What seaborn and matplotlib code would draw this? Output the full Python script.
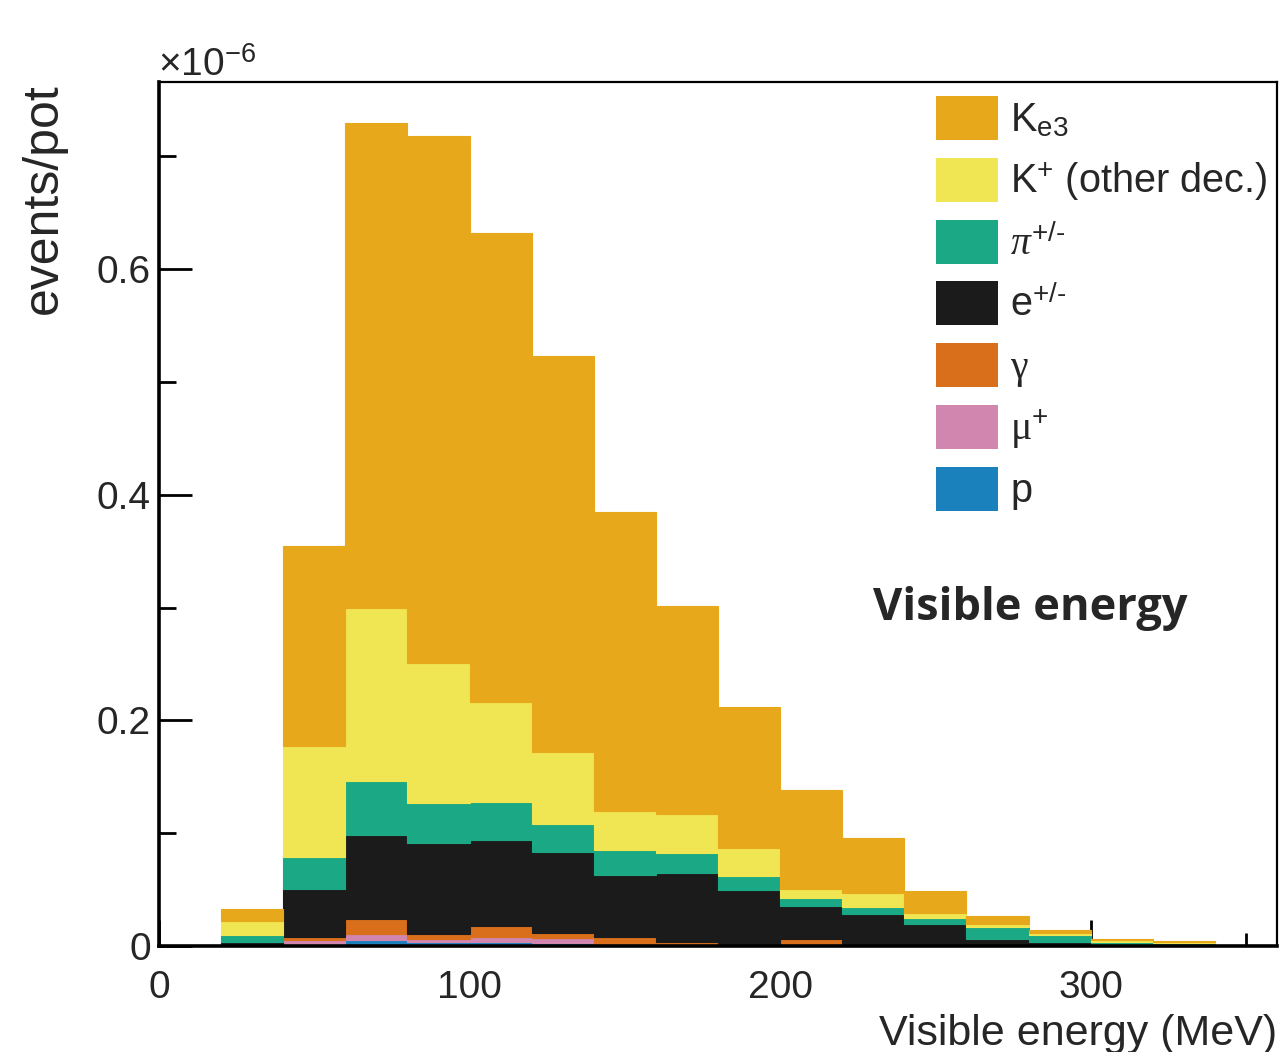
import numpy as np
import pandas as pd
import matplotlib
matplotlib.use('Agg')
import matplotlib.pyplot as plt
import seaborn as sns
from matplotlib.patches import Rectangle
from matplotlib.ticker import MultipleLocator, FuncFormatter

# histogram binning (MeV) and stacked components, values in units of 1e-6 events/pot
bin_edges = list(range(0, 361, 20))
sources = ['Ke3', 'K+ other', 'pi', 'e', 'gamma', 'mu', 'p']
legend_labels = [r'K$_{\mathregular{e3}}$', r'K$^{\mathregular{+}}$ (other dec.)',
                 r'$\pi^{\text{+/-}}$', r'e$^{\text{+/-}}$',
                 r'$\mathsf{\gamma}$', r'$\mathsf{\mu}^{\mathregular{+}}$', 'p']
colors = ['#E8A81B', '#F0E552', '#1BA884', '#1B1B1B', '#D96F1B', '#D086AE', '#1B81BD']

ke3 = [0, 0.0103, 0.1774, 0.4302, 0.4674, 0.4160, 0.3513, 0.2653, 0.1846,
       0.1250, 0.0872, 0.0488, 0.0195, 0.0071, 0.0027, 0.0012, 0.0009, 0.0003]
k_other = [0, 0.0124, 0.0984, 0.1535, 0.1242, 0.0887, 0.0638, 0.0346, 0.0345,
           0.0252, 0.0082, 0.0124, 0.0047, 0.0032, 0.0012, 0.0012, 0.0011, 0]
pion = [0, 0.0063, 0.0284, 0.0479, 0.0354, 0.0337, 0.0248, 0.0221, 0.0178,
        0.0121, 0.0071, 0.0062, 0.0048, 0.0101, 0.0065, 0.0023, 0.0014, 0]
electron = [0, 0.0035, 0.0429, 0.0747, 0.0808, 0.0763, 0.0716, 0.0550, 0.0612,
            0.0479, 0.0295, 0.0269, 0.0188, 0.0065, 0.0035, 0.0015, 0.0010, 0]
gamma = [0, 0, 0.0026, 0.0131, 0.0046, 0.0100, 0.0047, 0.0080, 0.0035,
         0.0018, 0.0045, 0.0015, 0.0010, 0, 0, 0, 0, 0]
muon = [0, 0, 0.0033, 0.0050, 0.0027, 0.0042, 0.0044, 0, 0,
        0, 0.0015, 0, 0, 0, 0, 0, 0, 0]
proton = [0, 0, 0.0018, 0.0056, 0.0033, 0.0035, 0.0027, 0, 0,
          0, 0, 0, 0, 0, 0, 0, 0, 0]

sns.set_style('ticks')
plt.rcParams['font.family'] = ['Liberation Sans', 'DejaVu Sans']
plt.rcParams['mathtext.fontset'] = 'custom'
plt.rcParams['mathtext.rm'] = 'Liberation Sans'
plt.rcParams['mathtext.it'] = 'Liberation Serif:italic'
plt.rcParams['mathtext.sf'] = 'Liberation Serif'
plt.rcParams['mathtext.bf'] = 'Liberation Sans:bold'

centers = np.array(bin_edges[:-1]) + 10
series = [ke3, k_other, pion, electron, gamma, muon, proton]
df = pd.DataFrame({
    'energy': np.tile(centers, len(sources)),
    'weight': np.concatenate(series),
    'source': np.repeat(sources, len(centers)),
})

W, H = 1279, 1052
fig = plt.figure(figsize=(W / 100, H / 100), dpi=100)
ax = fig.add_axes([159 / W, 1 - 946 / H, (1277 - 159) / W, (946 - 82) / H])

sns.histplot(df, x='energy', weights='weight', hue='source', hue_order=sources,
             palette=dict(zip(sources, colors)), multiple='stack', bins=bin_edges,
             element='bars', alpha=1, linewidth=0.8, legend=False, ax=ax)
for patch in ax.patches:
    patch.set_edgecolor(patch.get_facecolor())

ax.set_xlim(0, 360)
ax.set_ylim(0, 0.766)
ax.set_xlabel('')
ax.set_ylabel('')
ax.xaxis.set_major_locator(MultipleLocator(100))
ax.xaxis.set_minor_locator(MultipleLocator(50))
ax.yaxis.set_major_locator(MultipleLocator(0.2))
ax.yaxis.set_minor_locator(MultipleLocator(0.1))
ax.yaxis.set_major_formatter(FuncFormatter(lambda v, p: '0' if abs(v) < 1e-9 else f'{v:.1f}'))
ax.tick_params(which='both', direction='in', top=False, right=False, width=2,
               labelsize=28, color='black')
ax.tick_params(axis='y', which='major', length=24, pad=6)
ax.tick_params(axis='y', which='minor', length=12)
ax.tick_params(axis='x', which='major', length=19, pad=17)
ax.tick_params(axis='x', which='minor', length=9.5)
for side in ['left', 'bottom']:
    ax.spines[side].set_linewidth(2.6)
for side in ['top', 'right']:
    ax.spines[side].set_linewidth(1.6)
for s in ax.spines.values():
    s.set_color('black')

# legend drawn by hand in ROOT style
for i, (lab, col) in enumerate(zip(legend_labels, colors)):
    yc = 118 + i * 61.8
    fig.add_artist(Rectangle((936 / W, 1 - (yc + 22) / H), 62 / W, 44 / H,
                             transform=fig.transFigure, facecolor=col, edgecolor='none'))
    fig.text(1010 / W, 1 - (yc + 13) / H, lab, fontsize=28.5, ha='left', va='baseline')

fig.text(158 / W, 1 - 76 / H, r'×10$^{\mathregular{-6}}$', fontsize=28,
         ha='left', va='baseline')
fig.text(57 / W, 1 - 83 / H, 'events/pot', fontsize=36,
         rotation=90, rotation_mode='anchor', ha='right', va='baseline')
fig.text(1277 / W, 1 - 1045 / H, 'Visible energy (MeV)', fontsize=31,
         ha='right', va='baseline')
fig.text(873 / W, 1 - 620 / H, 'Visible energy', fontsize=32.5, family='Open Sans',
         fontweight='bold', ha='left', va='baseline')
fig.text(940 / W, 1 + 12 / H, 'Visible energy', fontsize=32.5, family='Open Sans',
         fontweight='bold', ha='right', va='baseline')

fig.savefig('out.png', dpi=100)
